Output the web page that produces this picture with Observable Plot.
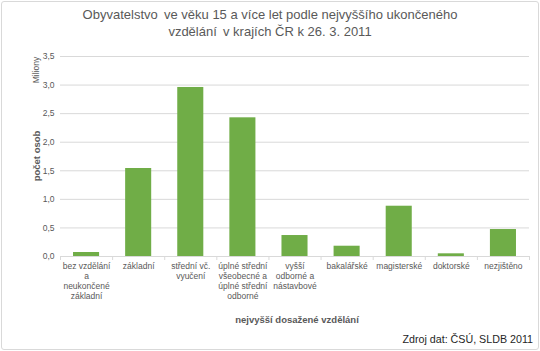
<!DOCTYPE html>
<html>
<head>
<meta charset="utf-8">
<script src="https://cdn.jsdelivr.net/npm/d3@7"></script>
<script src="https://cdn.jsdelivr.net/npm/@observablehq/plot@0.6"></script>
<style>
  html, body { margin: 0; padding: 0; background: #fff; }
  #wrap { position: relative; width: 540px; height: 351px; font-family: "Liberation Sans", Arial, sans-serif; color: #595959; }
  #border { position: absolute; left: 0.5px; top: 0.5px; width: 538px; height: 349px; border: 1px solid #d9d9d9; border-radius: 3px; box-sizing: border-box; }
  .lbl { position: absolute; white-space: nowrap; }
  #title { left: 0; width: 540px; top: 7px; text-align: center; font-size: 13px; line-height: 16.5px; }
  #xlabel { left: 297px; top: 314px; transform: translateX(-50%); font-size: 9.5px; font-weight: bold; }
  #source { right: 7px; top: 333px; font-size: 10.7px; color: #262626; }
  #ylabel { left: 36px; top: 156px; transform: translate(-50%, -50%) rotate(-90deg); font-size: 9.5px; font-weight: bold; }
  #unit { left: 36px; top: 70px; transform: translate(-50%, -50%) rotate(-90deg); font-size: 8.5px; }
  svg { position: absolute; left: 0; top: 0; }
</style>
</head>
<body>
<div id="wrap">
  <div id="border"></div>
  <div id="chart"></div>
  <div class="lbl" id="title">Obyvatelstvo&thinsp; ve věku 15 a více let podle nejvyššího ukončeného<br>vzdělání&thinsp; v krajích ČR k 26. 3. 2011</div>
  <div class="lbl" id="unit">Miliony</div>
  <div class="lbl" id="ylabel">počet osob</div>
  <div class="lbl" id="xlabel">nejvyšší dosažené vzdělání</div>
  <div class="lbl" id="source">Zdroj dat: ČSÚ, SLDB 2011</div>
</div>
<script>
const categories = [
  "bez vzdělání a neukončené základní",
  "základní",
  "střední vč. vyučení",
  "úplné střední všeobecné a úplné střední odborné",
  "vyšší odborné a nástavbové",
  "bakalářské",
  "magisterské",
  "doktorské",
  "nezjištěno"
];
const tickLabels = [
  "bez vzdělání\na\nneukončené\nzákladní",
  "základní",
  "střední vč.\nvyučení",
  "úplné střední\nvšeobecné a\núplné střední\nodborné",
  "vyšší\nodborné a\nnástavbové",
  "bakalářské",
  "magisterské",
  "doktorské",
  "nezjištěno"
];
const values = [0.07, 1.54, 2.958, 2.427, 0.367, 0.18, 0.88, 0.047, 0.472];
const yTicks = [0, 0.5, 1, 1.5, 2, 2.5, 3, 3.5];

const data = categories.map((c, i) => ({cat: c, value: values[i]}));
const labelOf = new Map(categories.map((c, i) => [c, tickLabels[i]]));

const chart = Plot.plot({
  width: 540,
  height: 351,
  marginLeft: 60,
  marginRight: 11,
  marginTop: 56,
  marginBottom: 95,
  style: {background: "transparent", fontFamily: "Liberation Sans, Arial, sans-serif"},
  x: {domain: categories, paddingInner: 0.5, paddingOuter: 0.25, round: false, label: null},
  y: {domain: [0, 3.5], label: null},
  marks: [
    Plot.gridY(yTicks, {stroke: "#d9d9d9", strokeOpacity: 1, strokeWidth: 1}),
    Plot.axisY({ticks: yTicks, tickSize: 0, tickPadding: 6, tickFormat: d => d.toFixed(1).replace(".", ","), fill: "#595959", fontSize: 8.5, label: null}),
    Plot.barY(data, {x: "cat", y: "value", fill: "#70ad47"}),
    Plot.axisX({tickSize: 4, tickFormat: () => "", dx: -26.05, stroke: "#d9d9d9", strokeOpacity: 1, label: null}),
    Plot.axisX({ticks: [categories[categories.length - 1]], tickSize: 4, tickFormat: () => "", dx: 26.05, stroke: "#d9d9d9", strokeOpacity: 1, label: null}),
    Plot.axisX({tickSize: 0, tickPadding: 5, tickFormat: d => labelOf.get(d), lineHeight: 1.2, fontSize: 8.5, fill: "#595959", label: null})
  ]
});
document.getElementById("chart").appendChild(chart);
</script>
</body>
</html>
